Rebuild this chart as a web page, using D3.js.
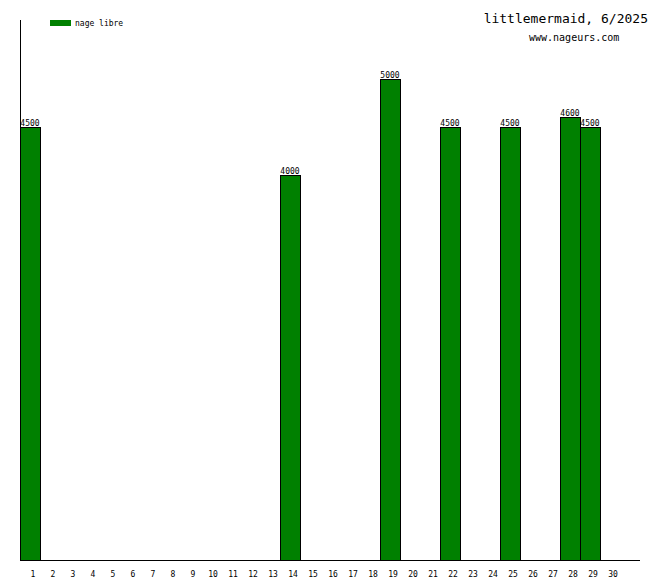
<!DOCTYPE html>
<html>
<head>
<meta charset="utf-8">
<script src="https://cdn.jsdelivr.net/npm/d3@7"></script>
<style>
  html, body { margin: 0; padding: 0; background: #fff; }
  text { font-family: "DejaVu Sans Mono", monospace; fill: #000; }
</style>
</head>
<body>
<svg id="chart" width="660" height="580"></svg>
<script>
const days = d3.range(1, 31);
const swimDays = [1, 14, 19, 22, 25, 28, 29];
const swimValues = [4500, 4000, 5000, 4500, 4500, 4600, 4500];
const seriesName = "nage libre";
const titleText = "littlemermaid, 6/2025";
const siteText = "www.nageurs.com";

const svg = d3.select("#chart");
const x = d3.scaleLinear().domain([1, 32]).range([20, 640]);
const y = d3.scaleLinear().domain([0, 5625]).range([560, 20]);

// bars
const data = swimDays.map((d, i) => ({ day: d, value: swimValues[i] }));
svg.append("g").selectAll("rect").data(data).join("rect")
  .attr("x", d => x(d.day) + 0.5)
  .attr("y", d => Math.round(y(d.value)) - 0.5)
  .attr("width", d => x(d.day + 1) - x(d.day))
  .attr("height", d => 560 - Math.round(y(d.value)) + 0.5)
  .attr("fill", "#008000")
  .attr("stroke", "#000")
  .attr("stroke-width", 1)
  .attr("shape-rendering", "crispEdges");

// value labels
svg.append("g").selectAll("text").data(data).join("text")
  .attr("x", d => (x(d.day) + x(d.day + 1)) / 2)
  .attr("y", d => Math.round(y(d.value)) - 2)
  .attr("text-anchor", "middle")
  .attr("font-size", 8)
  .text(d => d.value);

// axes
svg.append("line").attr("x1", 20.5).attr("x2", 20.5).attr("y1", 20).attr("y2", 560)
  .attr("stroke", "#000").attr("shape-rendering", "crispEdges");
svg.append("line").attr("x1", 20).attr("x2", 640).attr("y1", 560.5).attr("y2", 560.5)
  .attr("stroke", "#000").attr("shape-rendering", "crispEdges");

// x labels
svg.append("g").selectAll("text").data(days).join("text")
  .attr("x", d => (x(d) + x(d + 1)) / 2 + 3)
  .attr("y", 577)
  .attr("text-anchor", "middle")
  .attr("font-size", 8)
  .text(d => d);

// legend
svg.append("rect").attr("x", 50).attr("y", 20).attr("width", 21).attr("height", 6)
  .attr("fill", "#008000").attr("shape-rendering", "crispEdges");
svg.append("text").attr("x", 75).attr("y", 26).attr("font-size", 8).text(seriesName);

// titles
svg.append("text").attr("x", 648).attr("y", 23).attr("text-anchor", "end")
  .attr("font-size", 13).text(titleText);
svg.append("text").attr("x", 529).attr("y", 41)
  .attr("font-size", 10).text(siteText);
</script>
</body>
</html>
